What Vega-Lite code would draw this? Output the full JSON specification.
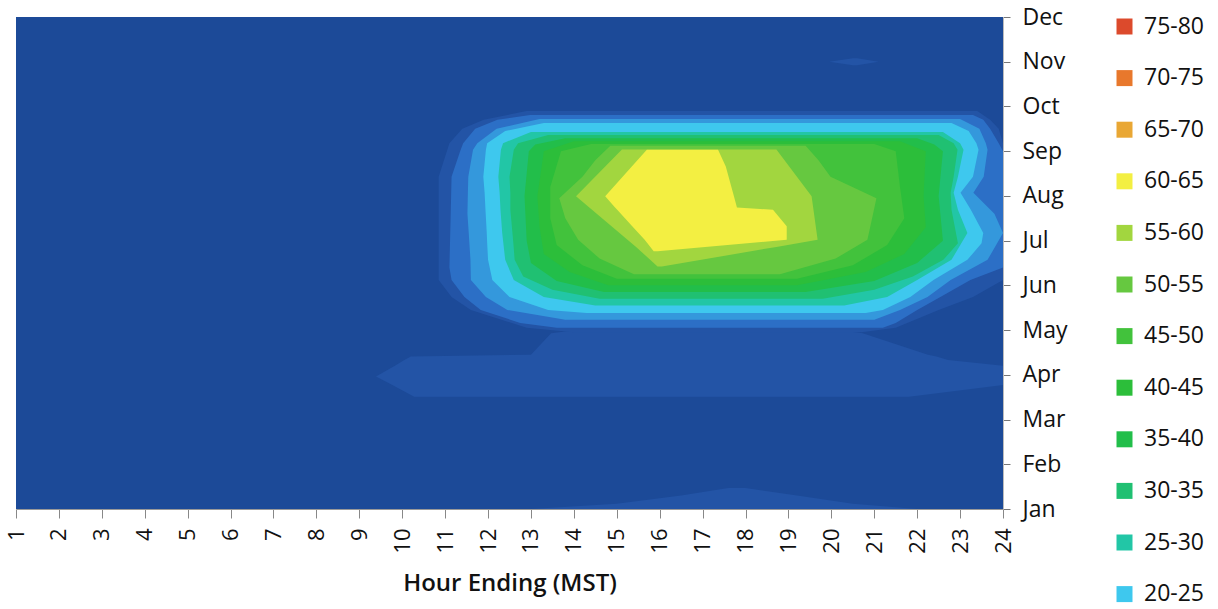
{
  "$schema": "https://vega.github.io/schema/vega-lite/v6.json",
  "autosize": {"type": "none"},
  "width": 987,
  "height": 492,
  "padding": {"left": 16, "top": 17, "right": 215, "bottom": 100},
  "background": "white",
  "config": {
    "view": {"stroke": null},
    "font": "Open Sans",
    "axis": {"labelFont": "Open Sans", "titleFont": "Open Sans", "labelColor": "#111", "titleColor": "#111"},
    "legend": {"labelFont": "Open Sans"}
  },
  "data": {"values": [
    {"lev":0,"id":"bg","m":1,"h0":1,"h1":24},
    {"lev":0,"id":"bg","m":12,"h0":1,"h1":24},
    {"lev":5,"id":"apr","m":3.51,"h0":10.28,"h1":21.81},
    {"lev":5,"id":"apr","m":3.77,"h0":9.77,"h1":24},
    {"lev":5,"id":"apr","m":3.96,"h0":9.39,"h1":24},
    {"lev":5,"id":"apr","m":4.2,"h0":9.83,"h1":24},
    {"lev":5,"id":"apr","m":4.33,"h0":10.05,"h1":22.72},
    {"lev":5,"id":"apr","m":4.41,"h0":10.2,"h1":22.45},
    {"lev":5,"id":"apr","m":4.45,"h0":13.0,"h1":22.25},
    {"lev":5,"id":"apr","m":4.93,"h0":13.47,"h1":20.73},
    {"lev":5,"id":"apr","m":5.05,"h0":14.5,"h1":19.8},
    {"lev":5,"id":"ring","m":4.95,"h0":14.0,"h1":20.7},
    {"lev":5,"id":"ring","m":5.05,"h0":12.9,"h1":21.5},
    {"lev":5,"id":"ring","m":5.45,"h0":11.6,"h1":22.5},
    {"lev":5,"id":"ring","m":5.74,"h0":11.15,"h1":23.3},
    {"lev":5,"id":"ring","m":6.12,"h0":10.85,"h1":24},
    {"lev":5,"id":"ring","m":8.43,"h0":10.85,"h1":24},
    {"lev":5,"id":"ring","m":9.18,"h0":11.1,"h1":24},
    {"lev":5,"id":"ring","m":9.5,"h0":11.4,"h1":23.9},
    {"lev":5,"id":"ring","m":9.7,"h0":11.9,"h1":23.7},
    {"lev":5,"id":"ring","m":9.9,"h0":12.9,"h1":23.4},
    {"lev":5,"id":"jan","m":1.0,"h0":13.0,"h1":22.0},
    {"lev":5,"id":"jan","m":1.12,"h0":15.0,"h1":20.5},
    {"lev":5,"id":"jan","m":1.3,"h0":16.5,"h1":19.2},
    {"lev":5,"id":"jan","m":1.47,"h0":17.6,"h1":18.0},
    {"lev":5,"id":"nov","m":10.92,"h0":20.5,"h1":20.6},
    {"lev":5,"id":"nov","m":11.0,"h0":19.95,"h1":21.1},
    {"lev":5,"id":"nov","m":11.08,"h0":20.5,"h1":20.6},
    {"lev":10,"id":"r","m":5.05,"h0":13.6,"h1":21.2},
    {"lev":10,"id":"r","m":5.16,"h0":12.75,"h1":21.5},
    {"lev":10,"id":"r","m":5.45,"h0":11.83,"h1":22.0},
    {"lev":10,"id":"r","m":5.74,"h0":11.45,"h1":22.54},
    {"lev":10,"id":"r","m":6.12,"h0":11.15,"h1":23.24},
    {"lev":10,"id":"r","m":6.4,"h0":11.1,"h1":24},
    {"lev":10,"id":"r","m":8.43,"h0":11.15,"h1":24},
    {"lev":10,"id":"r","m":9.0,"h0":11.35,"h1":24},
    {"lev":10,"id":"r","m":9.18,"h0":11.42,"h1":23.9},
    {"lev":10,"id":"r","m":9.5,"h0":11.7,"h1":23.7},
    {"lev":10,"id":"r","m":9.7,"h0":12.22,"h1":23.54},
    {"lev":10,"id":"r","m":9.81,"h0":12.98,"h1":23.3},
    {"lev":15,"id":"r","m":5.23,"h0":13.8,"h1":21.0},
    {"lev":15,"id":"r","m":5.45,"h0":12.45,"h1":21.6},
    {"lev":15,"id":"r","m":5.74,"h0":11.95,"h1":22.24},
    {"lev":15,"id":"r","m":6.12,"h0":11.6,"h1":22.78},
    {"lev":15,"id":"r","m":6.57,"h0":11.59,"h1":23.64},
    {"lev":15,"id":"r","m":7.17,"h0":11.55,"h1":24},
    {"lev":15,"id":"r","m":7.6,"h0":11.52,"h1":23.8},
    {"lev":15,"id":"r","m":8.07,"h0":11.53,"h1":23.31},
    {"lev":15,"id":"r","m":8.43,"h0":11.54,"h1":23.55},
    {"lev":15,"id":"r","m":9.03,"h0":11.65,"h1":23.64},
    {"lev":15,"id":"r","m":9.18,"h0":11.75,"h1":23.6},
    {"lev":15,"id":"r","m":9.5,"h0":12.2,"h1":23.45},
    {"lev":15,"id":"r","m":9.72,"h0":13.2,"h1":23.0},
    {"lev":20,"id":"r","m":5.38,"h0":14.3,"h1":20.8},
    {"lev":20,"id":"r","m":5.45,"h0":13.4,"h1":21.2},
    {"lev":20,"id":"r","m":5.74,"h0":12.5,"h1":21.84},
    {"lev":20,"id":"r","m":6.12,"h0":12.1,"h1":22.38},
    {"lev":20,"id":"r","m":6.57,"h0":12.0,"h1":23.17},
    {"lev":20,"id":"r","m":6.94,"h0":11.98,"h1":23.5},
    {"lev":20,"id":"r","m":7.17,"h0":11.97,"h1":23.54},
    {"lev":20,"id":"r","m":7.69,"h0":11.94,"h1":23.25},
    {"lev":20,"id":"r","m":8.07,"h0":11.92,"h1":23.01},
    {"lev":20,"id":"r","m":8.43,"h0":11.89,"h1":23.3},
    {"lev":20,"id":"r","m":9.03,"h0":11.95,"h1":23.43},
    {"lev":20,"id":"r","m":9.18,"h0":11.98,"h1":23.38},
    {"lev":20,"id":"r","m":9.45,"h0":12.4,"h1":23.2},
    {"lev":20,"id":"r","m":9.63,"h0":13.3,"h1":22.8},
    {"lev":25,"id":"r","m":5.55,"h0":14.5,"h1":20.3},
    {"lev":25,"id":"r","m":5.74,"h0":13.3,"h1":21.3},
    {"lev":25,"id":"r","m":6.12,"h0":12.6,"h1":22.0},
    {"lev":25,"id":"r","m":6.57,"h0":12.4,"h1":22.8},
    {"lev":25,"id":"r","m":7.17,"h0":12.33,"h1":23.17},
    {"lev":25,"id":"r","m":7.69,"h0":12.29,"h1":22.95},
    {"lev":25,"id":"r","m":8.07,"h0":12.27,"h1":22.85},
    {"lev":25,"id":"r","m":8.43,"h0":12.24,"h1":22.95},
    {"lev":25,"id":"r","m":9.03,"h0":12.3,"h1":23.08},
    {"lev":25,"id":"r","m":9.18,"h0":12.35,"h1":23.0},
    {"lev":25,"id":"r","m":9.43,"h0":13.0,"h1":22.6},
    {"lev":30,"id":"r","m":5.7,"h0":14.6,"h1":19.8},
    {"lev":30,"id":"r","m":5.9,"h0":13.5,"h1":21.0},
    {"lev":30,"id":"r","m":6.2,"h0":12.82,"h1":21.9},
    {"lev":30,"id":"r","m":6.57,"h0":12.62,"h1":22.61},
    {"lev":30,"id":"r","m":6.94,"h0":12.59,"h1":22.95},
    {"lev":30,"id":"r","m":7.69,"h0":12.52,"h1":22.8},
    {"lev":30,"id":"r","m":8.07,"h0":12.52,"h1":22.78},
    {"lev":30,"id":"r","m":8.43,"h0":12.5,"h1":22.85},
    {"lev":30,"id":"r","m":9.03,"h0":12.6,"h1":22.94},
    {"lev":30,"id":"r","m":9.18,"h0":12.7,"h1":22.85},
    {"lev":30,"id":"r","m":9.36,"h0":13.4,"h1":22.5},
    {"lev":35,"id":"r","m":5.85,"h0":14.7,"h1":19.4},
    {"lev":35,"id":"r","m":6.1,"h0":13.6,"h1":21.0},
    {"lev":35,"id":"r","m":6.5,"h0":13.0,"h1":22.0},
    {"lev":35,"id":"r","m":7.0,"h0":12.9,"h1":22.6},
    {"lev":35,"id":"r","m":8.0,"h0":12.85,"h1":22.5},
    {"lev":35,"id":"r","m":9.0,"h0":12.95,"h1":22.6},
    {"lev":35,"id":"r","m":9.15,"h0":13.1,"h1":22.4},
    {"lev":35,"id":"r","m":9.29,"h0":13.8,"h1":22.0},
    {"lev":40,"id":"r","m":6.0,"h0":14.8,"h1":19.2},
    {"lev":40,"id":"r","m":6.3,"h0":13.9,"h1":20.8},
    {"lev":40,"id":"r","m":6.7,"h0":13.3,"h1":21.7},
    {"lev":40,"id":"r","m":7.3,"h0":13.2,"h1":22.2},
    {"lev":40,"id":"r","m":8.0,"h0":13.15,"h1":22.15},
    {"lev":40,"id":"r","m":9.0,"h0":13.3,"h1":22.2},
    {"lev":40,"id":"r","m":9.22,"h0":14.0,"h1":21.6},
    {"lev":45,"id":"r","m":6.15,"h0":15.0,"h1":19.2},
    {"lev":45,"id":"r","m":6.45,"h0":14.2,"h1":20.5},
    {"lev":45,"id":"r","m":6.9,"h0":13.6,"h1":21.3},
    {"lev":45,"id":"r","m":7.5,"h0":13.45,"h1":21.7},
    {"lev":45,"id":"r","m":8.2,"h0":13.45,"h1":21.6},
    {"lev":45,"id":"r","m":9.0,"h0":13.7,"h1":21.5},
    {"lev":45,"id":"r","m":9.16,"h0":14.4,"h1":21.0},
    {"lev":50,"id":"r","m":6.25,"h0":15.4,"h1":18.8},
    {"lev":50,"id":"r","m":6.6,"h0":14.6,"h1":20.1},
    {"lev":50,"id":"r","m":7.02,"h0":14.1,"h1":20.84},
    {"lev":50,"id":"r","m":7.5,"h0":13.8,"h1":20.95},
    {"lev":50,"id":"r","m":7.95,"h0":13.66,"h1":21.05},
    {"lev":50,"id":"r","m":8.43,"h0":14.2,"h1":19.98},
    {"lev":50,"id":"r","m":8.8,"h0":14.5,"h1":19.7},
    {"lev":50,"id":"r","m":9.12,"h0":14.85,"h1":19.4},
    {"lev":55,"id":"r","m":6.42,"h0":15.95,"h1":16.05},
    {"lev":55,"id":"r","m":6.86,"h0":15.45,"h1":18.72},
    {"lev":55,"id":"r","m":7.02,"h0":15.25,"h1":19.68},
    {"lev":55,"id":"r","m":7.99,"h0":14.05,"h1":19.54},
    {"lev":55,"id":"r","m":9.04,"h0":15.12,"h1":18.72},
    {"lev":60,"id":"r","m":6.76,"h0":15.86,"h1":15.95},
    {"lev":60,"id":"r","m":7.02,"h0":15.65,"h1":18.96},
    {"lev":60,"id":"r","m":7.32,"h0":15.36,"h1":18.96},
    {"lev":60,"id":"r","m":7.69,"h0":15.01,"h1":18.64},
    {"lev":60,"id":"r","m":7.74,"h0":14.96,"h1":17.8},
    {"lev":60,"id":"r","m":7.99,"h0":14.73,"h1":17.73},
    {"lev":60,"id":"r","m":8.66,"h0":15.35,"h1":17.54},
    {"lev":60,"id":"r","m":9.03,"h0":15.7,"h1":17.36}
  ]},
  "encoding": {
    "y": {
      "field": "m", "type": "quantitative",
      "scale": {"domain": [1, 12], "nice": false, "zero": false},
      "axis": {
        "orient": "right", "title": null, "grid": false,
        "values": [1,2,3,4,5,6,7,8,9,10,11,12],
        "labelExpr": "['Jan','Feb','Mar','Apr','May','Jun','Jul','Aug','Sep','Oct','Nov','Dec'][datum.value - 1]",
        "labelFontSize": 23, "tickSize": 7, "tickColor": "#777", "domainColor": "#bbb",
        "labelPadding": 12, "labelFlush": false, "labelOverlap": false
      }
    },
    "x": {
      "field": "h0", "type": "quantitative",
      "scale": {"domain": [1, 24], "nice": false, "zero": false},
      "axis": {
        "title": "Hour Ending (MST)", "grid": false,
        "values": [1,2,3,4,5,6,7,8,9,10,11,12,13,14,15,16,17,18,19,20,21,22,23,24],
        "format": "d", "labelAngle": 270, "labelFontSize": 22,
        "tickSize": 9, "tickColor": "#888", "domainColor": "#999",
        "labelPadding": 10, "labelFlush": false, "labelOverlap": false,
        "titleFontSize": 24, "titleFontWeight": 600, "titlePadding": 18
      }
    },
    "x2": {"field": "h1"},
    "detail": {"field": "id", "type": "nominal"},
    "color": {
      "field": "lev", "type": "ordinal",
      "scale": {
        "domain": [75,70,65,60,55,50,45,40,35,30,25,20,15,10,5,0],
        "range": ["#dc4a2c","#e8782c","#e9a734","#f3ef42","#a2d63f","#66c840","#42c23c","#2cbe3a","#22be4a","#20c072","#22c6a6","#3ec8ee","#3498dc","#2c6fc6","#2354a6","#1c4a98"]
      },
      "legend": {
        "title": null, "orient": "none", "legendX": 1097, "legendY": -2,
        "values": [75,70,65,60,55,50,45,40,35,30,25,20],
        "labelExpr": "datum.value + '-' + (datum.value + 5)",
        "symbolType": "square", "symbolSize": 256, "symbolStrokeWidth": 0, "symbolOpacity": 1,
        "labelFontSize": 23, "labelColor": "#111", "labelOffset": 8,
        "rowPadding": 27.6, "padding": 0, "direction": "vertical"
      }
    }
  },
  "layer": [
    {"transform": [{"filter": {"field": "lev", "equal": 0}}], "mark": {"type": "area", "orient": "horizontal"}},
    {"transform": [{"filter": {"field": "lev", "equal": 5}}], "mark": {"type": "area", "orient": "horizontal"}},
    {"transform": [{"filter": {"field": "lev", "equal": 10}}], "mark": {"type": "area", "orient": "horizontal"}},
    {"transform": [{"filter": {"field": "lev", "equal": 15}}], "mark": {"type": "area", "orient": "horizontal"}},
    {"transform": [{"filter": {"field": "lev", "equal": 20}}], "mark": {"type": "area", "orient": "horizontal"}},
    {"transform": [{"filter": {"field": "lev", "equal": 25}}], "mark": {"type": "area", "orient": "horizontal"}},
    {"transform": [{"filter": {"field": "lev", "equal": 30}}], "mark": {"type": "area", "orient": "horizontal"}},
    {"transform": [{"filter": {"field": "lev", "equal": 35}}], "mark": {"type": "area", "orient": "horizontal"}},
    {"transform": [{"filter": {"field": "lev", "equal": 40}}], "mark": {"type": "area", "orient": "horizontal"}},
    {"transform": [{"filter": {"field": "lev", "equal": 45}}], "mark": {"type": "area", "orient": "horizontal"}},
    {"transform": [{"filter": {"field": "lev", "equal": 50}}], "mark": {"type": "area", "orient": "horizontal"}},
    {"transform": [{"filter": {"field": "lev", "equal": 55}}], "mark": {"type": "area", "orient": "horizontal"}},
    {"transform": [{"filter": {"field": "lev", "equal": 60}}], "mark": {"type": "area", "orient": "horizontal"}}
  ]
}
